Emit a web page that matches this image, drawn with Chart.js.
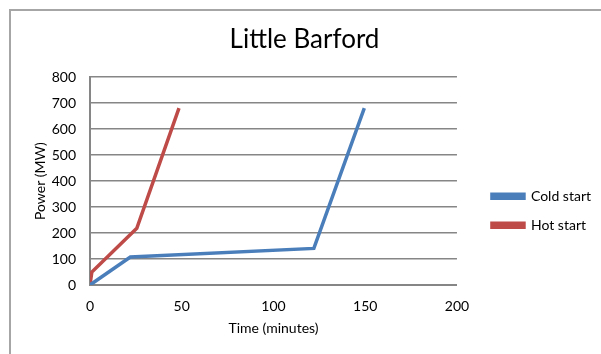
<!DOCTYPE html>
<html lang="en">
<head>
  <meta charset="UTF-8" />
  <title>Little Barford</title>
  <script src="https://cdn.jsdelivr.net/npm/chart.js"></script>
  <style>
    html, body { margin: 0; padding: 0; background: #fff; }
    #wrap { position: relative; width: 601px; height: 354px; }
    #frame {
      position: absolute; left: 9px; top: 9px; right: -2px; bottom: -2px;
      border-top: 2px solid #a6a6a6; border-left: 2px solid #a6a6a6;
      box-sizing: border-box;
    }
  </style>
</head>
<body>
  <div id="wrap">
    <div id="frame"></div>
    <canvas id="chart" width="601" height="354"></canvas>
  </div>

  <script>
    // Time in minutes vs power output (MW)
    const coldTime  = [0, 22, 122, 149.5];
    const coldPower = [0, 108, 141, 681];
    const hotTime   = [0, 1, 25.5, 48.5];
    const hotPower  = [0, 50, 218, 681];

    const xTicks = [0, 50, 100, 150, 200];
    const yTicks = [0, 100, 200, 300, 400, 500, 600, 700, 800];

    const font = 'Lato, "Open Sans", sans-serif';
    Chart.defaults.font.family = font;
    Chart.defaults.color = '#000';

    const toPoints = (xs, ys) => xs.map((x, i) => ({ x: x, y: ys[i] }));

    // nudge the legend a bit away from the plot, like the original
    const legendShift = {
      id: 'legendShift',
      afterLayout(chart) {
        const lg = chart.legend;
        if (!lg) return;
        lg.left += 20;
        lg.right += 20;
      }
    };

    new Chart(document.getElementById('chart'), {
      type: 'scatter',
      data: {
        datasets: [
          {
            label: 'Cold start',
            data: toPoints(coldTime, coldPower),
            showLine: true,
            borderColor: '#4a7ebb',
            backgroundColor: '#4a7ebb',
            borderWidth: 3.5,
            pointRadius: 0
          },
          {
            label: 'Hot start',
            data: toPoints(hotTime, hotPower),
            showLine: true,
            borderColor: '#be4b48',
            backgroundColor: '#be4b48',
            borderWidth: 3.5,
            pointRadius: 0
          }
        ]
      },
      plugins: [legendShift],
      options: {
        responsive: false,
        animation: false,
        layout: { padding: { left: 28, right: 20, top: 0, bottom: 13 } },
        plugins: {
          title: {
            display: true,
            text: 'Little Barford',
            font: { size: 26, weight: 'normal' },
            padding: { top: 24, bottom: 22 }
          },
          legend: {
            position: 'right',
            title: { display: true, text: '', padding: { top: 66 } },
            labels: {
              boxWidth: 32,
              boxHeight: 4,
              padding: 15,
              font: { size: 14 }
            }
          },
          tooltip: { enabled: false }
        },
        scales: {
          x: {
            type: 'linear',
            min: 0,
            max: 200,
            afterBuildTicks: (s) => { s.ticks = xTicks.map(v => ({ value: v })); },
            grid: { display: false, drawTicks: false },
            border: { color: '#868686', width: 2 },
            ticks: { font: { size: 14 }, padding: 13 },
            title: { display: true, text: 'Time (minutes)', font: { size: 14 }, padding: { top: 4 } },
            afterFit: (s) => { s.height = 56; }
          },
          y: {
            type: 'linear',
            min: 0,
            max: 800,
            afterBuildTicks: (s) => { s.ticks = yTicks.map(v => ({ value: v })); },
            grid: { color: '#868686', lineWidth: 1.5, drawTicks: false },
            border: { color: '#868686', width: 2 },
            ticks: { font: { size: 14 }, padding: 14 },
            title: { display: true, text: 'Power (MW)', font: { size: 14 }, padding: { bottom: 4 } },
            afterFit: (s) => { s.width = 62; }
          }
        }
      }
    });
  </script>
</body>
</html>
